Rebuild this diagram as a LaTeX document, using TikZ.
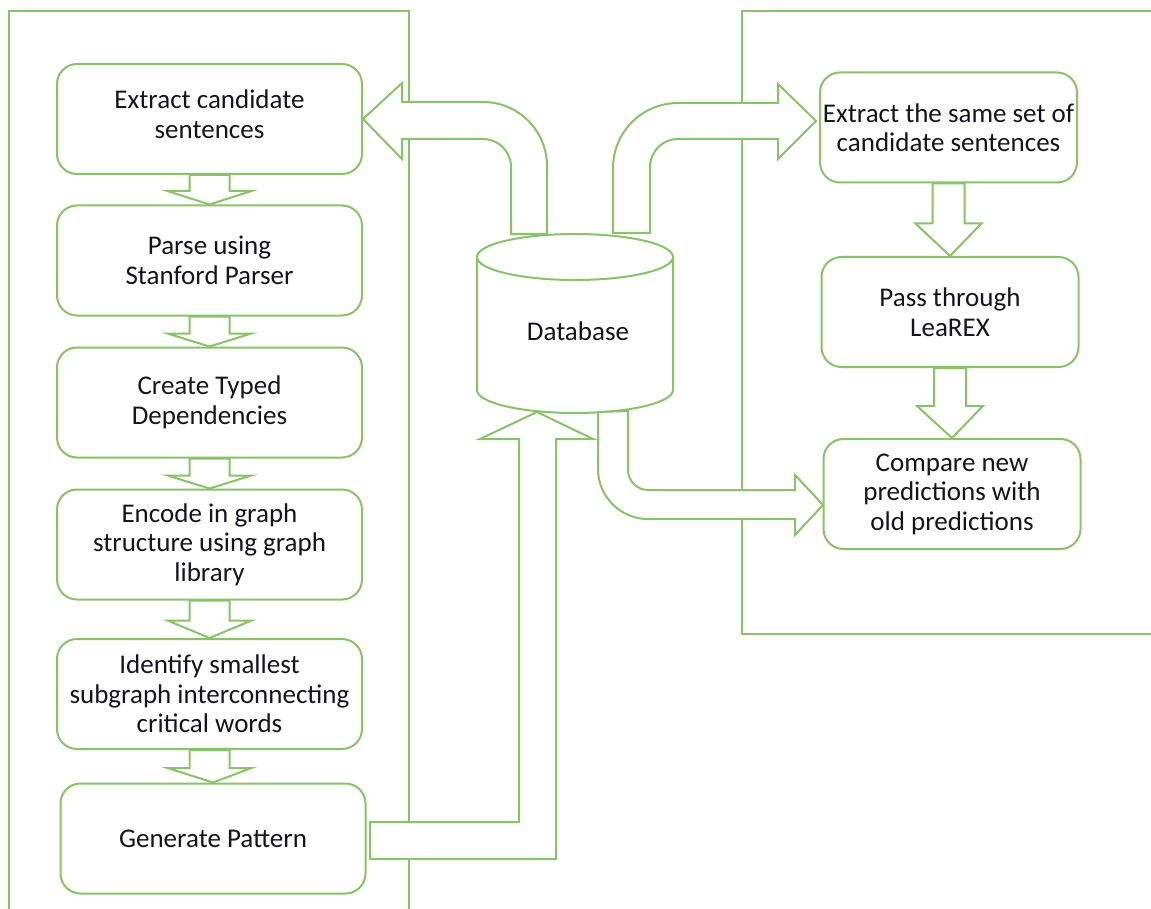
\documentclass[tikz,border=0pt]{standalone}
\usepackage{fontspec}
\setmainfont{Carlito}
\usetikzlibrary{calc}
\definecolor{leaf}{RGB}{137,194,104}
\definecolor{ink}{RGB}{20,20,30}

% down-pointing block arrow between two stacked boxes:
% #1 upper node, #2 lower node, #3 half shaft width, #4 half head width, #5 shaft length
\newcommand\dnarrow[5]{%
  \draw[blk] ($(#1.south)+(-#3,0)$) -- ($(#1.south)+(-#3,#5)$)
    -- ($(#1.south)+(-#4,#5)$) -- (#2.north) -- ($(#1.south)+(#4,#5)$)
    -- ($(#1.south)+(#3,#5)$) -- ($(#1.south)+(#3,0)$) -- cycle;}

\begin{document}
\begin{tikzpicture}[x=1pt,y=-1pt,line width=2pt,
  panel/.style={draw=leaf,line cap=rect},
  stepbox/.style={draw=leaf,fill=white,rounded corners=20pt,
    minimum width=305pt,minimum height=110pt,inner sep=0pt,align=center,
    text=ink,font=\fontsize{27}{29.5}\selectfont},
  rbox/.style={stepbox,minimum width=257pt},
  blk/.style={draw=leaf,fill=white,line join=miter}]
\useasboundingbox (0,0) rectangle (1151,909);

% the two swim-lane frames
\draw[panel] (9,915) -- (9,11) -- (409,11) -- (409,915);
\draw[panel] (1160,11) -- (742,11) -- (742,634) -- (1160,634);

% pattern generation pipeline
\node[stepbox] (b1) at (209.5,119)   {Extract candidate\\sentences\\[-29pt]\strut};
\node[stepbox] (b2) at (209.5,260.5) {Parse using\\Stanford Parser};
\node[stepbox] (b3) at (209.5,402.5) {Create Typed\\Dependencies};
\node[stepbox] (b4) at (209.5,544.5) {Encode in graph\\structure using graph\\library};
\node[stepbox] (b5) at (209.5,694)   {Identify smallest\\subgraph interconnecting\\critical words};
\node[stepbox] (b6) at (213,838.5)   {Generate Pattern};

% evaluation pipeline
\node[rbox] (r1) at (948.5,127.5) {Extract the same set of\\candidate sentences};
\node[rbox] (r2) at (950,312)     {Pass through\\LeaREX};
\node[rbox] (r3) at (952,494)     {Compare new\\predictions with\\old predictions};

% database cylinder
\draw[draw=leaf,fill=white] (477,257) -- (477,390)
  .. controls (477,402.7) and (520.9,413) .. (575,413)
  .. controls (629.1,413) and (673,402.7) .. (673,390) -- (673,257);
\draw[draw=leaf,fill=white] (575,257) ellipse [x radius=98pt,y radius=23pt];
\node[text=ink,font=\fontsize{27}{29.5}\selectfont] (db) at (578,331) {Database};

% small step arrows
\dnarrow{b1}{b2}{20}{42}{16}
\dnarrow{b2}{b3}{20}{42}{17}
\dnarrow{b3}{b4}{20}{42}{17}
\dnarrow{b4}{b5}{20}{42}{20}
\dnarrow{b5}{b6}{20}{42}{18}
\dnarrow{r1}{r2}{16}{33}{40}
\dnarrow{r2}{r3}{16}{33}{38}

% database -> candidate sentences (left)
\draw[blk] (b1.east) -- (402,83) -- (402,102) -- (483,102)
  .. controls (518.3,102) and (547,130.7) .. (547,166) -- (547,234)
  -- (511,234) -- (511,167) .. controls (511,151.5) and (498.5,139) .. (483,139)
  -- (402,139) -- (402,159) -- cycle;

% database -> candidate sentences (right)
\coordinate (r1in) at (816,121);
\draw[blk] (613,233) -- (613,168) .. controls (613,132.1) and (642.1,103) .. (678,103)
  -- (778,103) -- (778,84) -- (r1in) -- (778,159) -- (778,139) -- (678,139)
  .. controls (662.5,139) and (650,151.5) .. (650,167) -- (650,233) -- cycle;

% database -> comparison
\coordinate (r3in) at (823,505);
\draw[blk] (598,412) -- (598,469) .. controls (598,496.6) and (620.4,519) .. (648,519)
  -- (795,519) -- (795,535) -- (r3in) -- (795,475) -- (795,490) -- (648,490)
  .. controls (637,490) and (628,481) .. (628,470) -- (628,411) -- cycle;

% generated pattern -> database
\coordinate (dbin) at (537,412);
\draw[blk] (370,822) -- (519,822) -- (519,439) -- (480,439) -- (dbin)
  -- (593,439) -- (556,439) -- (556,859) -- (370,859) -- cycle;
\end{tikzpicture}
\end{document}
